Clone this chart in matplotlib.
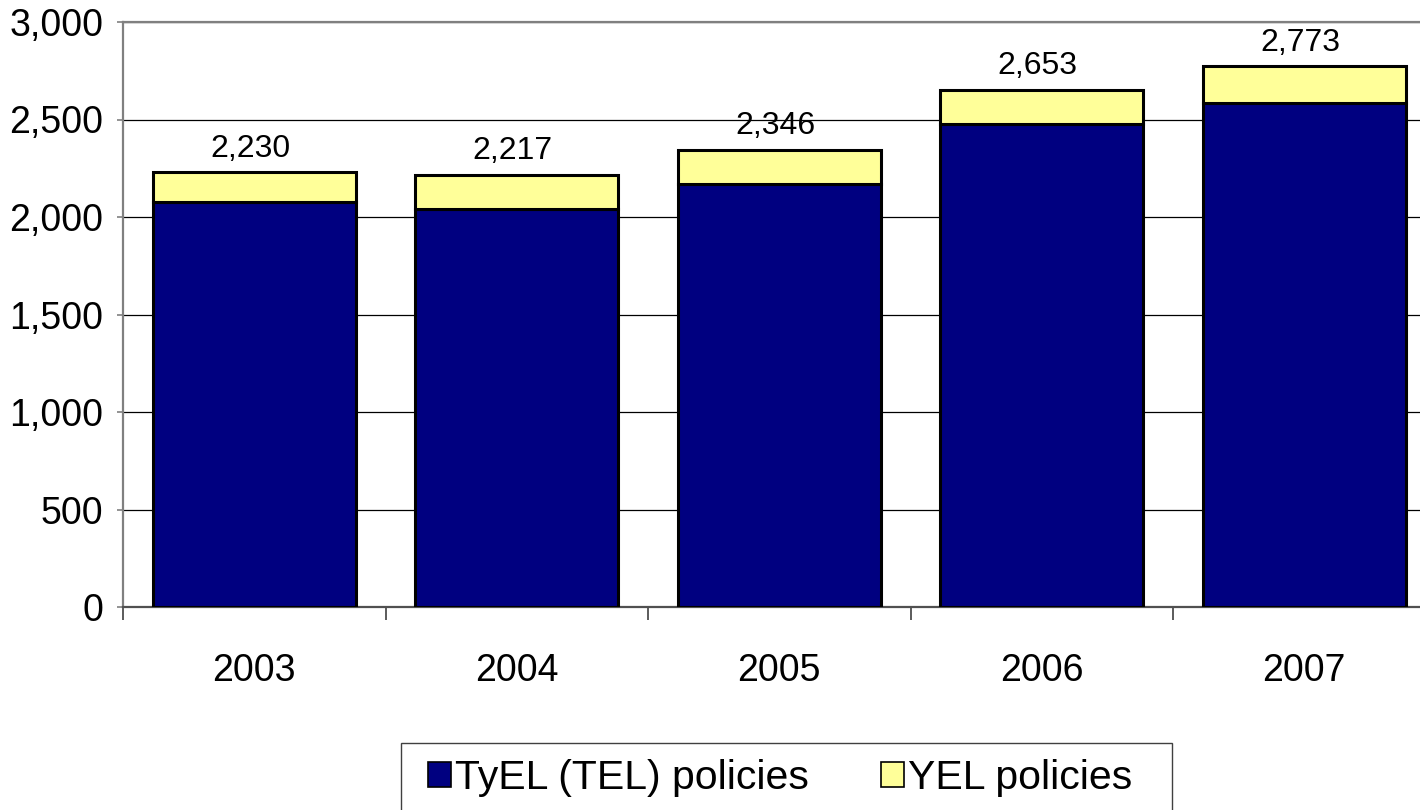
import matplotlib
matplotlib.use("Agg")
import matplotlib.pyplot as plt
from matplotlib.patches import Patch, Rectangle
from matplotlib.ticker import FuncFormatter, FixedLocator

plt.rcParams['font.family'] = ['Liberation Sans', 'DejaVu Sans']

years = ['2003', '2004', '2005', '2006', '2007']
tyel = [2075, 2040, 2170, 2475, 2585]
yel = [155, 177, 176, 178, 188]
totals = [2230, 2217, 2346, 2653, 2773]

navy = '#000080'
pale = '#FFFF99'
edge_grey = '#808080'

W, H = 1420, 810
fig = plt.figure(figsize=(W / 100, H / 100), dpi=100)
ax = fig.add_axes([123 / W, 1 - 607 / H, 5 * 262.5 / W, 585 / H])

x = range(len(years))
ax.bar(x, tyel, width=0.775, color=navy, edgecolor='black', linewidth=2.2, zorder=3)
ax.bar(x, yel, width=0.775, bottom=tyel, color=pale, edgecolor='black', linewidth=2.2, zorder=3)

# totals written above each stack
for i, t in enumerate(totals):
    ax.annotate(f'{t:,}', xy=(i, t), xytext=(-3, 6), textcoords='offset points',
                ha='center', va='bottom', fontsize=23)

ax.set_xlim(-0.5, 4.5)
ax.set_ylim(0, 3000)
ax.set_yticks(range(0, 3001, 500))
ax.yaxis.set_major_formatter(FuncFormatter(lambda v, p: f'{int(v):,}'))
ax.set_xticks(list(x))
ax.set_xticklabels(years)
ax.xaxis.set_minor_locator(FixedLocator([-0.5, 0.5, 1.5, 2.5, 3.5, 4.5]))

ax.tick_params(axis='x', which='major', length=0, pad=33, labelsize=27)
ax.tick_params(axis='x', which='minor', length=9, width=1.2, color='#404040', direction='out')
ax.tick_params(axis='y', length=4, width=1.2, color=edge_grey, pad=10, labelsize=27)

ax.grid(axis='y', color='black', linewidth=0.9, zorder=0)
ax.set_axisbelow(True)

for side in ['left', 'top', 'right']:
    ax.spines[side].set_color(edge_grey)
    ax.spines[side].set_linewidth(1.6)
ax.spines['bottom'].set_color('#505050')
ax.spines['bottom'].set_linewidth(1.6)

# legend box, drawn separately so its size can be set
fig.patches.append(Rectangle((401 / W, 1 - 812 / H), (1172 - 401) / W, (812 - 743) / H,
                             transform=fig.transFigure, facecolor='white',
                             edgecolor='#404040', linewidth=1.0))

handles = [Patch(facecolor=navy, edgecolor='black', linewidth=1.2, label='TyEL (TEL) policies'),
           Patch(facecolor=pale, edgecolor='black', linewidth=1.2, label='YEL policies')]
fig.legend(handles=handles, loc='center left', bbox_to_anchor=(428 / W, 1 - 778 / H),
           ncol=2, fontsize=29.5, frameon=False, borderpad=0, borderaxespad=0,
           handlelength=0.55, handleheight=0.55, handletextpad=0.12, columnspacing=1.75)

fig.savefig('out.png', dpi=100)
